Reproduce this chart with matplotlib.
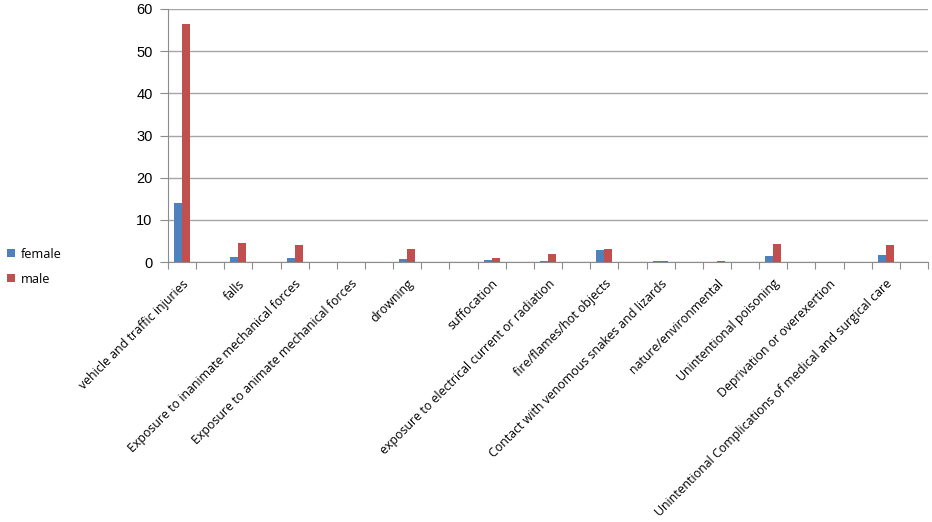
import matplotlib
matplotlib.use("Agg")
import matplotlib.pyplot as plt
import numpy as np

categories = [
    "vehicle and traffic injuries", "", "falls", "",
    "Exposure to inanimate mechanical forces", "",
    "Exposure to animate mechanical forces", "",
    "drowning", "", "", "suffocation", "",
    "exposure to electrical current or radiation", "",
    "fire/flames/hot objects", "",
    "Contact with venomous snakes and lizards", "",
    "nature/environmental", "",
    "Unintentional poisoning", "",
    "Deprivation or overexertion", "",
    "Unintentional Complications of medical and surgical care", "",
]
female = [14.0, 0, 1.2, 0, 0.95, 0, 0, 0, 0.6, 0, 0, 0.45, 0,
          0.25, 0, 2.85, 0, 0.15, 0, 0.05, 0, 1.35, 0, 0, 0, 1.7, 0]
male = [56.4, 0, 4.4, 0, 4.0, 0, 0, 0, 3.15, 0, 0, 1.0, 0,
        1.8, 0, 3.1, 0, 0.2, 0, 0.15, 0, 4.2, 0, 0, 0, 4.0, 0]
series_names = ["female", "male"]
colors = ["#4F81BD", "#C0504D"]
yticks = [0, 10, 20, 30, 40, 50, 60]

plt.rcParams['font.family'] = ['Open Sans', 'DejaVu Sans']

fig = plt.figure(figsize=(9.32, 5.22), dpi=100)
ax = fig.add_axes([168/932, 1-262/522, (928-168)/932, (262-9)/522])

n = len(categories)
x = np.arange(n)
w = 0.28
b1 = ax.bar(x - w/2, female, width=w, color=colors[0], label=series_names[0], zorder=3)
b2 = ax.bar(x + w/2, male, width=w, color=colors[1], label=series_names[1], zorder=3)

ax.set_xlim(-0.5, n - 0.5)
ax.set_ylim(0, 60)
ax.set_yticks(yticks)
ax.set_yticklabels([str(v) for v in yticks], family=['Liberation Sans', 'DejaVu Sans'])
ax.yaxis.grid(True, color="#A6A6A6", linewidth=1, zorder=0)
ax.tick_params(axis='y', direction='out', length=6, color="#8C8C8C", labelsize=10.5, pad=5)

ax.set_xticks(np.arange(-0.5, n, 1.0))
ax.set_xticklabels([])
ax.set_xticks(x, minor=True)
ax.set_xticklabels(categories, minor=True, rotation=45, ha='right', va='top',
                   rotation_mode='anchor', fontsize=8.9)
for lbl in ax.get_xticklabels(minor=True):
    lbl.set_x(lbl.get_position()[0])
ax.tick_params(axis='x', which='minor', length=0, pad=11)
ax.tick_params(axis='x', which='major', direction='out', length=5, color="#8C8C8C")

for s in ['top', 'right']:
    ax.spines[s].set_visible(False)
for s in ['left', 'bottom']:
    ax.spines[s].set_color("#8C8C8C")

fig.legend(handles=[b1, b2], labels=series_names, loc='upper left',
           bbox_to_anchor=(-0.005, 1-236/522), frameon=False, fontsize=9.2,
           handlelength=0.6, handleheight=0.6, handletextpad=0.5, labelspacing=0.95)

fig.savefig("out.png", dpi=100)
